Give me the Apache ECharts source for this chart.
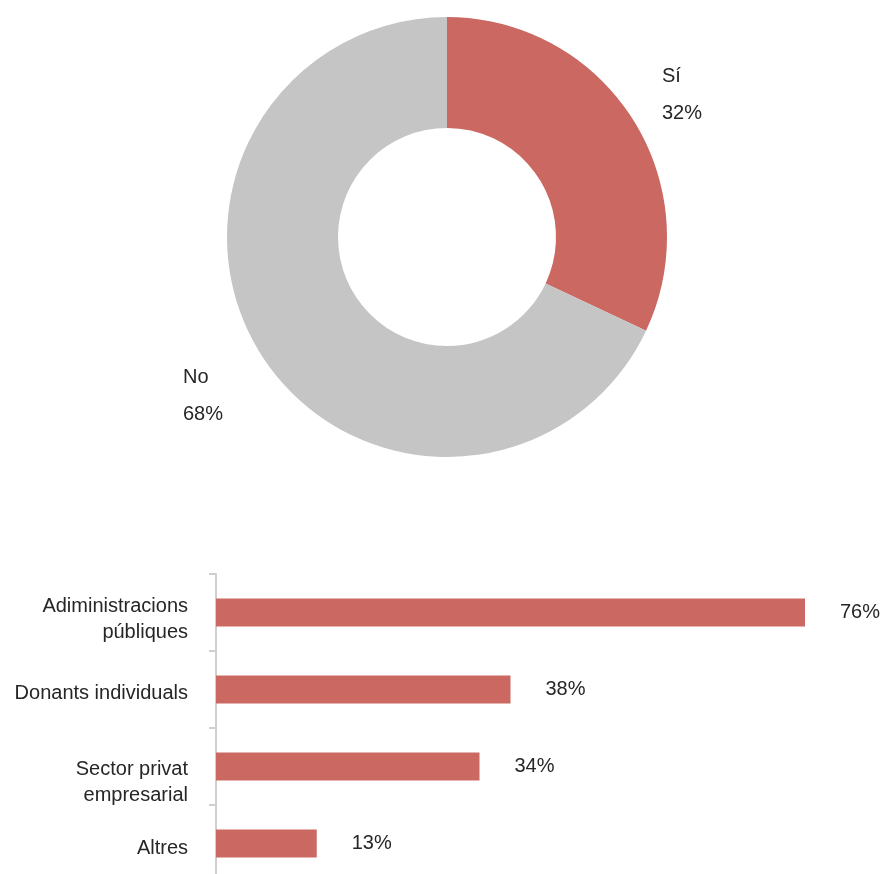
<!DOCTYPE html>
<html><head><meta charset="utf-8">
<script src="https://cdn.jsdelivr.net/npm/echarts@6/dist/echarts.min.js"></script>
<style>html,body{margin:0;padding:0;background:#fff}#c{width:887px;height:874px}</style>
</head><body><div id="c"></div>
<script>
const pieNames = ['Sí', 'No'];
const pieValues = [32, 68];
const barCategories = ['Adiministracions\npúbliques', 'Donants individuals', 'Sector privat\nempresarial', 'Altres'];
const barValues = [76, 38, 34, 13];

// layout: height of an invisible spacer line above each category label (shifts label down by half of it)
const labelSpacer = [14, 8, 32, 10];

const RED = '#CB6862', GRAY = '#C4C5C4', TXT = '#262626';
const FONT = '"Liberation Sans", Arial, Helvetica, sans-serif';

const richStyles = { t: { fontSize: 20, lineHeight: 26, color: TXT, fontFamily: FONT, align: 'right' } };
labelSpacer.forEach((h, i) => { richStyles['s' + i] = { fontSize: 1, lineHeight: h }; });

const chart = echarts.init(document.getElementById('c'));
chart.setOption({
  animation: false,
  textStyle: { fontFamily: FONT },
  grid: { left: 216, right: 82, top: 574, height: 308, outerBoundsMode: 'none' },
  xAxis: { type: 'value', min: 0, max: 76, show: false },
  yAxis: {
    type: 'category', inverse: true, data: barCategories,
    axisLine: { show: true, lineStyle: { color: '#CFCFCF', width: 2 } },
    axisTick: { show: true, length: 7, lineStyle: { color: '#CFCFCF', width: 2 } },
    axisLabel: {
      color: TXT, fontSize: 20, fontFamily: FONT, margin: 28, align: 'right',
      formatter: function (v, i) {
        return '{s' + i + '| }\n' + v.split('\n').map(l => '{t|' + l + '}').join('\n');
      },
      rich: richStyles
    },
    splitLine: { show: false }
  },
  series: [
    {
      type: 'pie', center: [447, 237], radius: [109, 220], startAngle: 90, clockwise: true,
      data: pieNames.map((n, i) => ({ name: n, value: pieValues[i], itemStyle: { color: [RED, GRAY][i] } })),
      label: {
        show: true, position: 'outside', formatter: '{b}\n\n{d}%', color: TXT, fontSize: 20,
        fontFamily: FONT, lineHeight: 18.5, align: 'left'
      },
      labelLine: { show: false },
      labelLayout: function (p) {
        return p.dataIndex === 0
          ? { x: 662, y: 95, align: 'left', verticalAlign: 'middle' }
          : { x: 183, y: 396, align: 'left', verticalAlign: 'middle' };
      },
      emphasis: { disabled: true }
    },
    {
      type: 'bar', data: barValues, barWidth: 28,
      itemStyle: { color: RED },
      label: { show: true, position: 'right', distance: 35, formatter: '{c}%', color: TXT, fontSize: 20, fontFamily: FONT }
    }
  ]
});
</script></body></html>
